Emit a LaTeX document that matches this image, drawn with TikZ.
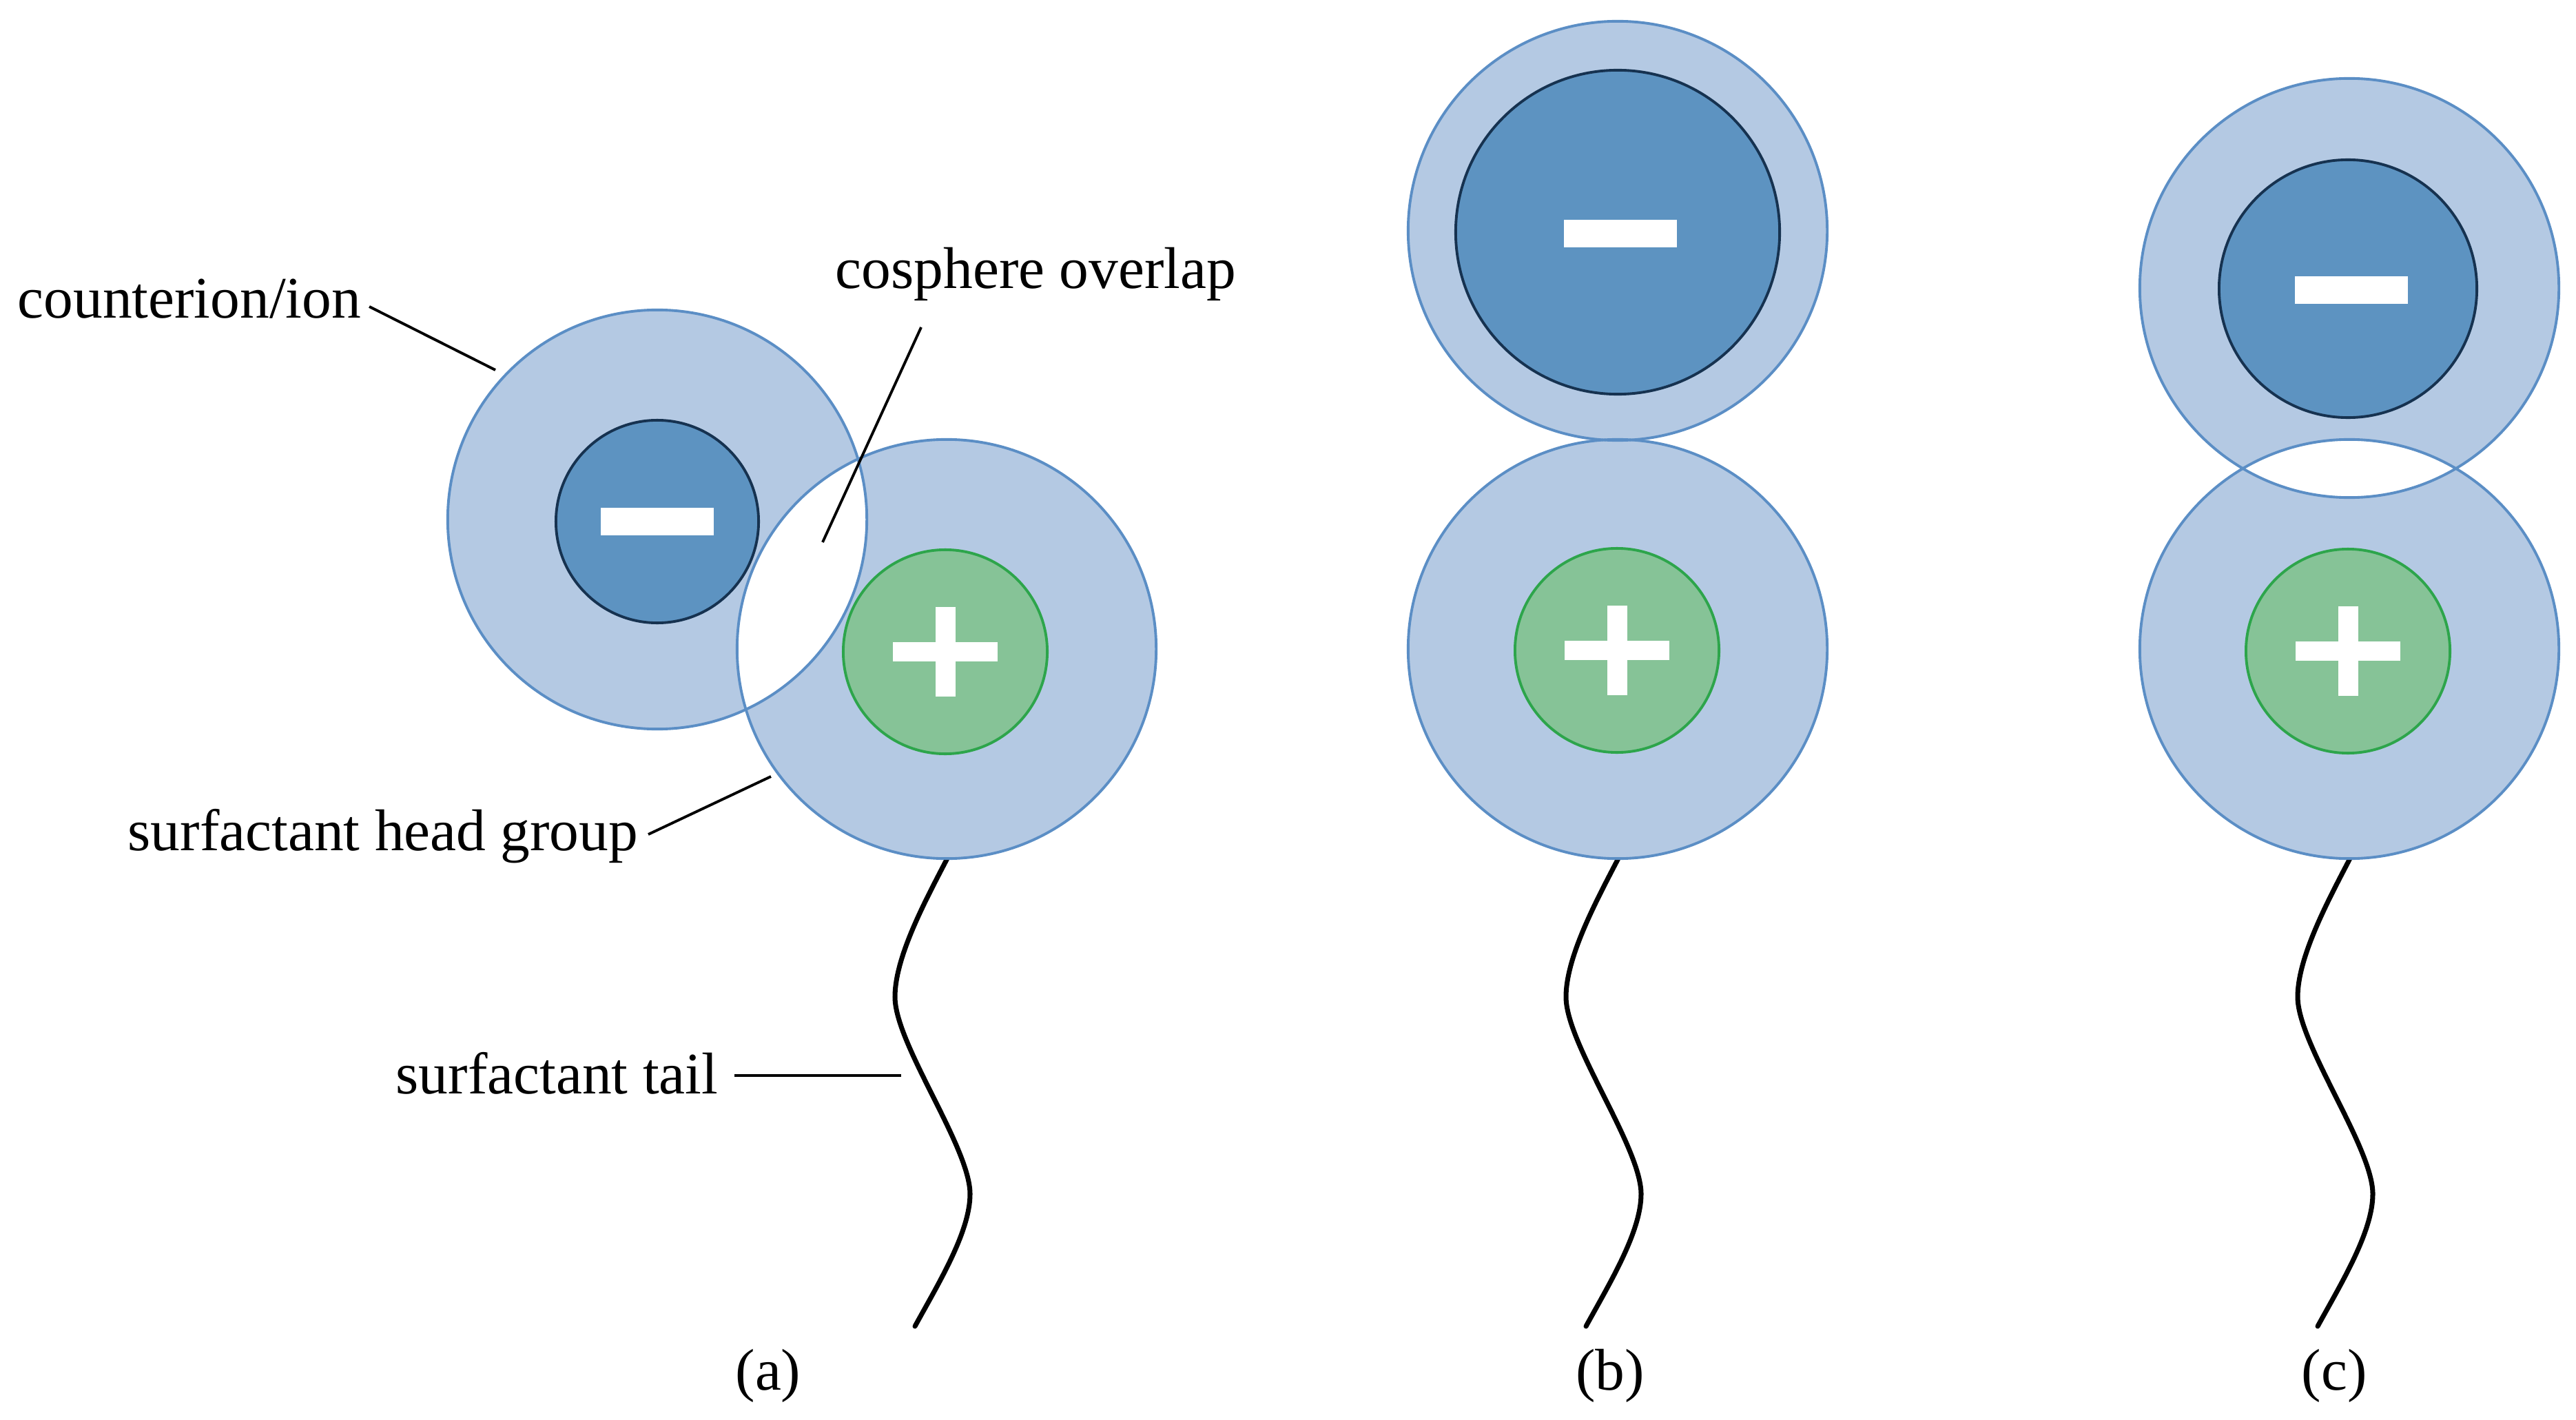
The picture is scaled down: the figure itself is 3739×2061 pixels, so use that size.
\documentclass[tikz,border=0pt]{standalone}
\usepackage{fontspec}
\setmainfont{Liberation Serif}
\definecolor{shell}{RGB}{180,201,227}
\definecolor{shelledge}{RGB}{91,142,197}
\definecolor{anion}{RGB}{93,147,193}
\definecolor{anionedge}{RGB}{22,50,80}
\definecolor{cation}{RGB}{134,195,151}
\definecolor{cationedge}{RGB}{45,165,75}
\tikzset{
  shellring/.style={circle, draw=shelledge, line width=1.1pt, minimum size=6.08cm, inner sep=0pt},
  anionball/.style={circle, fill=anion, draw=anionedge, line width=1.1pt, inner sep=0pt},
  cationball/.style={circle, fill=cation, draw=cationedge, line width=1.1pt, minimum size=2.96cm, inner sep=0pt},
  minusbar/.style={rectangle, fill=white, minimum width=1.64cm, minimum height=0.40cm, inner sep=0pt},
  plush/.style={rectangle, fill=white, minimum width=1.52cm, minimum height=0.27cm, inner sep=0pt},
  plusv/.style={rectangle, fill=white, minimum width=0.29cm, minimum height=1.29cm, inner sep=0pt},
  lbl/.style={inner sep=0pt, font=\fontsize{24.3}{29}\selectfont},
  leader/.style={draw=black, line width=1.1pt},
  tailline/.style={draw=black, line width=2pt, line cap=round},
}
\newcommand\drawtail[2]{% #1 = name, #2 = centre x
  \coordinate (#1t0) at (#2+4,1240);
  \coordinate (#1t1) at (#2-75,1447);
  \coordinate (#1t2) at (#2+34,1733);
  \coordinate (#1t3) at (#2-46,1925);
  \draw[tailline] (#1t0) .. controls (#2-28,1302) and (#2-75,1387) .. (#1t1)
     .. controls (#2-75,1515) and (#2+34,1665) .. (#1t2)
     .. controls (#2+34,1788) and (#2-12,1863) .. (#1t3);
}
\begin{document}
\begin{tikzpicture}[x=0.01cm, y=-0.01cm]
\useasboundingbox (0,0) rectangle (3739,2061);

% tails
\drawtail{a}{1374}
\drawtail{b}{2348}
\drawtail{c}{3410}

% ---------- (a) ----------
\fill[shell] (954,754) circle[radius=3.04cm];
\fill[shell] (1374,942) circle[radius=3.04cm];
\begin{scope}
  \clip (954,754) circle[radius=3.04cm];
  \fill[white] (1374,942) circle[radius=3.04cm];
\end{scope}
\node[shellring] (aion) at (954,754) {};
\node[shellring] (ahead) at (1374,942) {};
\node[anionball, minimum size=2.94cm] (aan) at (954,757) {};
\node[minusbar] (amin) at (aan) {};
\node[cationball] (acat) at (1372,946) {};
\node[plush] (aph) at (acat) {};
\node[plusv] (apv) at (acat) {};

% ---------- (b) ----------
\fill[shell] (2348,335) circle[radius=3.04cm];
\fill[shell] (2348,942) circle[radius=3.04cm];
\node[shellring] (bion) at (2348,335) {};
\node[shellring] (bhead) at (2348,942) {};
\node[anionball, minimum size=4.70cm] (ban) at (2348,337) {};
\node[minusbar] (bmin) at (2352,339) {};
\node[cationball] (bcat) at (2347,944) {};
\node[plush] (bph) at (bcat) {};
\node[plusv] (bpv) at (bcat) {};

% ---------- (c) ----------
\fill[shell] (3410,418) circle[radius=3.04cm];
\fill[shell] (3410,942) circle[radius=3.04cm];
\begin{scope}
  \clip (3410,418) circle[radius=3.04cm];
  \fill[white] (3410,942) circle[radius=3.04cm];
\end{scope}
\node[shellring] (cion) at (3410,418) {};
\node[shellring] (chead) at (3410,942) {};
\node[anionball, minimum size=3.74cm] (can) at (3408,419) {};
\node[minusbar] (cmin) at (3413,421) {};
\node[cationball] (ccat) at (3408,945) {};
\node[plush] (cph) at (ccat) {};
\node[plusv] (cpv) at (ccat) {};

% ---------- labels ----------
\node[lbl, anchor=base west] (tci) at (25,462) {counterion/ion};
\node[lbl, anchor=base west] (tco) at (1212,419) {cosphere overlap};
\node[lbl, anchor=base west] (thg) at (185,1234) {surfactant head group};
\node[lbl, anchor=base west] (tst) at (574,1587) {surfactant tail};
\node[lbl, anchor=base] (la) at (1115,2017) {(a)};
\node[lbl, anchor=base] (lb) at (2337,2017) {(b)};
\node[lbl, anchor=base] (lc) at (3388,2017) {(c)};

% ---------- leaders ----------
\coordinate (ci1) at (536,445);  \coordinate (ci2) at (719,537);
\coordinate (co1) at (1337,475); \coordinate (co2) at (1194,787);
\coordinate (hg1) at (941,1211); \coordinate (hg2) at (1119,1127);
\coordinate (st1) at (1066,1561); \coordinate (st2) at (1308,1561);
\draw[leader] (ci1) -- (ci2);
\draw[leader] (co1) -- (co2);
\draw[leader] (hg1) -- (hg2);
\draw[leader] (st1) -- (st2);
\end{tikzpicture}
\end{document}
